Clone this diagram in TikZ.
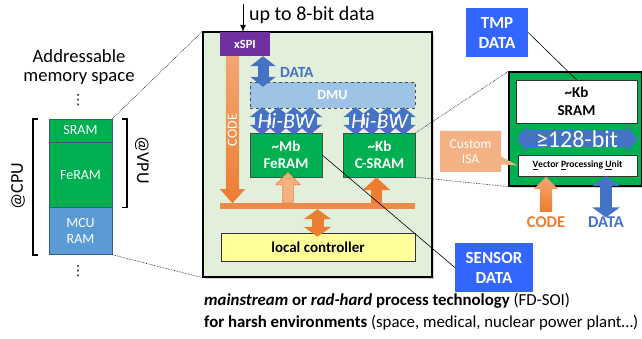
\documentclass[tikz,border=0pt]{standalone}
\usepackage{fontspec}
\setmainfont{Carlito}
\newfontfamily\dotsfont{DejaVu Sans}
\usetikzlibrary{arrows.meta}
\usetikzlibrary{calc,positioning,shadows,shapes.arrows,shapes.callouts}

\definecolor{memgreen}{HTML}{00B050}
\definecolor{memblue}{HTML}{5B9BD5}
\definecolor{chipbg}{HTML}{E2EFDA}
\definecolor{spipurple}{HTML}{7030A0}
\definecolor{codeorange}{HTML}{ED7D31}
\definecolor{lightorange}{HTML}{F4B183}
\definecolor{dmublue}{HTML}{9DC3E6}
\definecolor{arrowblue}{HTML}{4472C4}
\definecolor{tagblue}{HTML}{3366FF}
\definecolor{ctrlyellow}{HTML}{FFFF99}

\tikzset{
  fatblue/.style={arrowblue, line width=#1},
  fatorange/.style={codeorange, line width=#1},
  twohead/.style={{Triangle[width=#1,length=10pt]}-{Triangle[width=#1,length=10pt]}},
  onehead/.style={-{Triangle[width=#1,length=13pt]}},
}

\begin{document}
\begin{tikzpicture}[x=1pt,y=-1pt,
    every node/.style={inner sep=0pt, align=center},
    memblock/.style={draw=memblue!60!black, line width=0.3pt, text=white,
      minimum width=63pt, font=\fontsize{14}{16}\selectfont},
    ramblock/.style={draw=black!70, fill=memgreen, text=white, minimum width=72pt,
      minimum height=44pt, font=\bfseries\fontsize{15}{17}\selectfont},
    whitebox/.style={draw=black!80, fill=white},
    tagbox/.style={fill=tagblue, text=white, minimum height=49pt,
      font=\bfseries\fontsize{17}{20}\selectfont},
    bracket/.style={line width=1.6pt},
    zoomline/.style={densely dotted, line width=0.6pt},
    codearrow/.style={single arrow, anchor=tail, top color=lightorange!80!codeorange,
      bottom color=codeorange, draw=none}]

    \useasboundingbox (0,0) rectangle (642,339);

    % addressable memory space on the left
    \node[font=\fontsize{18.6}{19}\selectfont] (addr) at (79,67) {Addressable\\memory space};
    \node[font=\dotsfont\fontsize{14}{16}\selectfont] (dotsup) at (78,100) {⋮};
    \node[memblock, fill=memgreen, minimum height=23pt] (sram) at (80.5,130.5) {SRAM};
    \node[memblock, fill=memgreen, minimum height=65pt, below=0pt of sram] (feram) {FeRAM};
    \node[memblock, fill=memblue, minimum height=47pt, below=0pt of feram] (mcuram) {MCU\\RAM};
    \node[font=\dotsfont\fontsize{14}{16}\selectfont] (dotsdown) at (78,271) {⋮};

    \draw[bracket] ([xshift=-11pt]sram.north west) -- ++(-5pt,0) |- ([xshift=-11pt]mcuram.south west);
    \draw[bracket] ([xshift=10pt]sram.north east) -- ++(5pt,0) |- ([xshift=10pt]feram.south east);
    \node[rotate=90, font=\fontsize{18}{20}\selectfont] (cpu) at (18,186) {@CPU};
    \node[rotate=-90, font=\fontsize{18}{20}\selectfont] (vpu) at (142,160) {@VPU};

    % the memory chip
    \node[draw, line width=1.2pt, fill=chipbg, minimum width=229pt, minimum height=245pt,
      drop shadow={opacity=0.35}] (chip) at (317.5,154.5) {};
    \draw[zoomline] (sram.north east) -- (chip.north west);
    \draw[zoomline] (mcuram.south east) -- (chip.south west);

    \node[fill=spipurple, text=white, font=\bfseries\fontsize{12.5}{14}\selectfont,
      minimum width=50pt, minimum height=24pt] (xspi) at (245,44) {xSPI};
    \coordinate (datain) at (243,4);
    \draw[-{Latex[length=7pt,width=6pt]}, line width=0.9pt] (datain) -- (datain |- xspi.north);
    \node[anchor=west, font=\fontsize{20}{24}\selectfont] (bitwidth) at (249,15) {up to 8-bit data};

    \node[draw=black!70, dashed, fill=dmublue, text=white, minimum width=165pt,
      minimum height=26pt, font=\bfseries\fontsize{14}{16}\selectfont] (dmu) at (332.5,95) {DMU};
    \draw[fatblue=11pt, twohead=25pt] ([xshift=18pt]xspi.south) -- ([xshift=-69.5pt,yshift=-5pt]dmu.north);
    \node[anchor=west, text=arrowblue, font=\bfseries\fontsize{15.5}{18}\selectfont] (dmudata) at (280,72) {DATA};

    \node[ramblock] (mbram) at (286,155) {\textasciitilde Mb\\FeRAM};
    \node[ramblock] (kbram) at (379.5,155) {\textasciitilde Kb\\C-SRAM};

    % high bandwidth links, four arrows each
    \foreach \ram in {mbram,kbram}
    {
      \foreach \x in {-24,-8,8,24}
        \draw[fatblue=14pt, twohead=24pt] ($(\ram.north)+(\x,2)$) -- ($(\ram.north |- dmu.south)+(\x,-1)$);
      \node[text=white, font=\itshape\fontsize{22}{25}\selectfont] (hibw-\ram)
        at ($(\ram.north)!0.5!(\ram.north |- dmu.south)$) {Hi-BW};
    };

    \node[codearrow, shape border rotate=270, minimum height=147pt, minimum width=25pt,
      inner sep=6.5pt, single arrow head extend=6pt, single arrow tip angle=84] (codebar) at (232.5,56) {};
    \node[rotate=90, text=white, font=\fontsize{14}{15}\selectfont] (codetxt) at (232.5,130) {CODE};

    \node[fill=codeorange!90, minimum width=195pt, minimum height=6pt] (bus) at (317.5,206) {};
    \node[draw=black!80, fill=ctrlyellow, minimum width=194pt, minimum height=28pt,
      font=\bfseries\fontsize{15}{17}\selectfont] (ctrl) at (318,247) {local controller};

    \draw[fatorange=12pt, twohead=27pt] (bus.south) -- ([yshift=-4pt]bus.south |- ctrl.north);
    \draw[fatorange=11pt, onehead=27pt] ([xshift=-3pt]kbram.south |- bus.north) -- ([xshift=-3pt]kbram.south);
    \node[single arrow, anchor=tail, shape border rotate=90, draw=codeorange, densely dotted,
      line width=1pt, fill=lightorange, minimum height=30pt, minimum width=25pt, inner sep=5pt,
      single arrow head extend=7pt, single arrow tip angle=90] (dotarrow) at ([xshift=2pt]mbram.south |- bus.north) {};

    % labels for data coming in and out
    \node[tagbox, minimum width=78pt] (sensor) at (494,267.5) {SENSOR\\DATA};
    \draw[line width=0.6pt] (mbram.east) -- (sensor.west);
    \node[tagbox, minimum width=62pt] (tmp) at (497,32.5) {TMP\\DATA};

    % vector processing unit
    \node[draw, line width=1.2pt, fill=memgreen, minimum width=133pt, minimum height=114pt,
      drop shadow={opacity=0.35}] (vpubox) at (575.5,129) {};
    \draw[zoomline] (kbram.north east) -- (vpubox.north west);
    \draw[zoomline] (kbram.south east) -- (vpubox.south west);
    \node[whitebox, minimum width=121pt, minimum height=43pt,
      font=\bfseries\fontsize{15}{18}\selectfont] (ksram) at (576.5,101.5) {\textasciitilde Kb\\SRAM};
    \draw[line width=0.6pt] (tmp.east) -- (ksram.north);
    \node[whitebox, minimum width=119pt, minimum height=21pt,
      font=\bfseries\fontsize{9.6}{11}\selectfont] (vpunit) at (577.5,165.5)
      {\underline{V}ector \underline{P}rocessing \underline{U}nit};
    \draw[fatblue=17pt, twohead=26pt] ($(ksram.south west)!0.5!(vpunit.north west)$)
      -- ($(ksram.south east)!0.5!(vpunit.north east)$);
    \node[text=white, font=\fontsize{24}{26}\selectfont] (bits) at ($(ksram.south)!0.5!(vpunit.north)$) {≥128-bit};

    \node[rectangle callout, fill=lightorange, text=white, minimum width=61pt, minimum height=41pt,
      callout absolute pointer={(vpunit.west)}, callout pointer width=8pt,
      font=\fontsize{13.5}{15.5}\selectfont] (isa) at (470.5,151.5) {Custom\\ISA};

    \node[text=codeorange, font=\bfseries\fontsize{16.5}{19}\selectfont] (vcode) at (546,222) {CODE};
    \node[text=arrowblue, font=\bfseries\fontsize{16.5}{19}\selectfont] (vdata) at (606,222) {DATA};
    \node[codearrow, shape border rotate=90, minimum height=35pt, minimum width=24pt,
      inner sep=6pt, single arrow head extend=6pt, single arrow tip angle=90] (vcodearrow) at (546,212) {};
    \draw[fatblue=12pt, twohead=27pt] ([yshift=-1pt]vdata.north) -- (vpunit.south -| vdata.north);

    % process technology
    \node[anchor=west, font=\fontsize{16.8}{19}\selectfont] (tech) at (204,301)
      {\textbf{\textit{mainstream} or \textit{rad-hard} process technology} (FD-SOI)};
    \node[anchor=west, font=\fontsize{16.8}{19}\selectfont] (env) at (204,323)
      {\textbf{for harsh environments} (space, medical, nuclear power plant…)};
\end{tikzpicture}
\end{document}
